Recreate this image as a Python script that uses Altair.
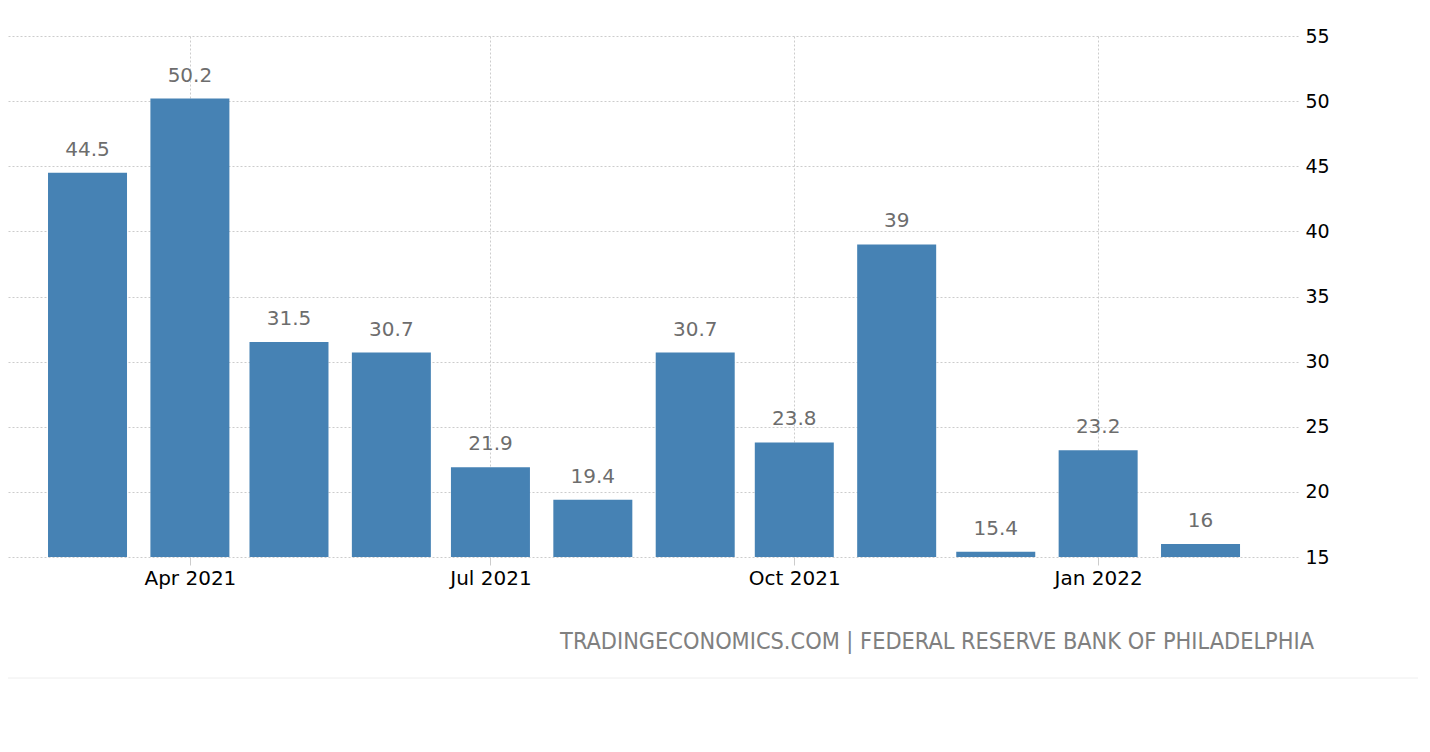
import altair as alt
import pandas as pd

months = ["2021-03-01T00:00:00", "2021-04-01T00:00:00", "2021-05-01T00:00:00",
          "2021-06-01T00:00:00", "2021-07-01T00:00:00", "2021-08-01T00:00:00",
          "2021-09-01T00:00:00", "2021-10-01T00:00:00", "2021-11-01T00:00:00",
          "2021-12-01T00:00:00", "2022-01-01T00:00:00", "2022-02-01T00:00:00"]
values = [44.5, 50.2, 31.5, 30.7, 21.9, 19.4, 30.7, 23.8, 39, 15.4, 23.2, 16]
labels = ["44.5", "50.2", "31.5", "30.7", "21.9", "19.4", "30.7", "23.8", "39", "15.4", "23.2", "16"]
y_ticks = [15, 20, 25, 30, 35, 40, 45, 50, 55]
footer = "TRADINGECONOMICS.COM | FEDERAL RESERVE BANK OF PHILADELPHIA"

df = pd.DataFrame({"month": months, "value": values, "label": labels})

FONT = "DejaVu Sans"

x = alt.X(
    "month:T",
    scale=alt.Scale(domain=[alt.DateTime(year=2021, month=2, date=6, hours=10, minutes=30),
                            alt.DateTime(year=2022, month=3, date=1)]),
    axis=alt.Axis(
        title=None,
        values=[alt.DateTime(year=2021, month=4, date=1),
                alt.DateTime(year=2021, month=7, date=1),
                alt.DateTime(year=2021, month=10, date=1),
                alt.DateTime(year=2022, month=1, date=1)],
        format="%b %Y",
        grid=True, gridColor="#cccccc", gridDash=[2, 2], gridWidth=1,
        domain=False, ticks=True, tickSize=8, tickColor="#cccccc",
        labelFont=FONT, labelFontSize=20, labelColor="#000000", labelPadding=3,
    ),
)
y = alt.Y(
    "value:Q",
    scale=alt.Scale(domain=[15, 55], nice=False, zero=False),
    axis=alt.Axis(
        title=None, orient="right", values=y_ticks,
        grid=True, gridColor="#cccccc", gridDash=[2, 2], gridWidth=1,
        domain=False, ticks=False, labelPadding=7,
        labelFont=FONT, labelFontSize=19, labelColor="#000000",
        labelAlign="left",
    ),
)

bars = alt.Chart(df).mark_bar(width=79, color="#4682b4").encode(
    x=x, y=y, y2=alt.datum(15)
)
texts = alt.Chart(df).mark_text(
    font=FONT, fontSize=20, color="#6d6d6d", baseline="alphabetic", dy=-17
).encode(x="month:T", y="value:Q", text="label:N")

foot = alt.Chart(pd.DataFrame({"t": [footer]})).mark_text(
    font="DejaVu Sans Condensed, Liberation Sans Narrow, DejaVu Sans",
    fontSize=23.3, color="#808080", align="right", baseline="middle"
).encode(x=alt.value(1306), y=alt.value(606), text="t:N")

line = alt.Chart(pd.DataFrame({"a": [0]})).mark_rule(color="#eeeeee", strokeWidth=1).encode(
    x=alt.value(-8), x2=alt.value(1422), y=alt.value(642)
)

chart = alt.layer(bars, texts, foot, line).properties(
    width=1290, height=521,
    padding={"left": 0, "top": 28, "right": 120, "bottom": 180},
    autosize=alt.AutoSizeParams(type="none"),
).configure_view(stroke=None)

chart.save("out.html", embed_options={"renderer": "svg", "actions": False})
